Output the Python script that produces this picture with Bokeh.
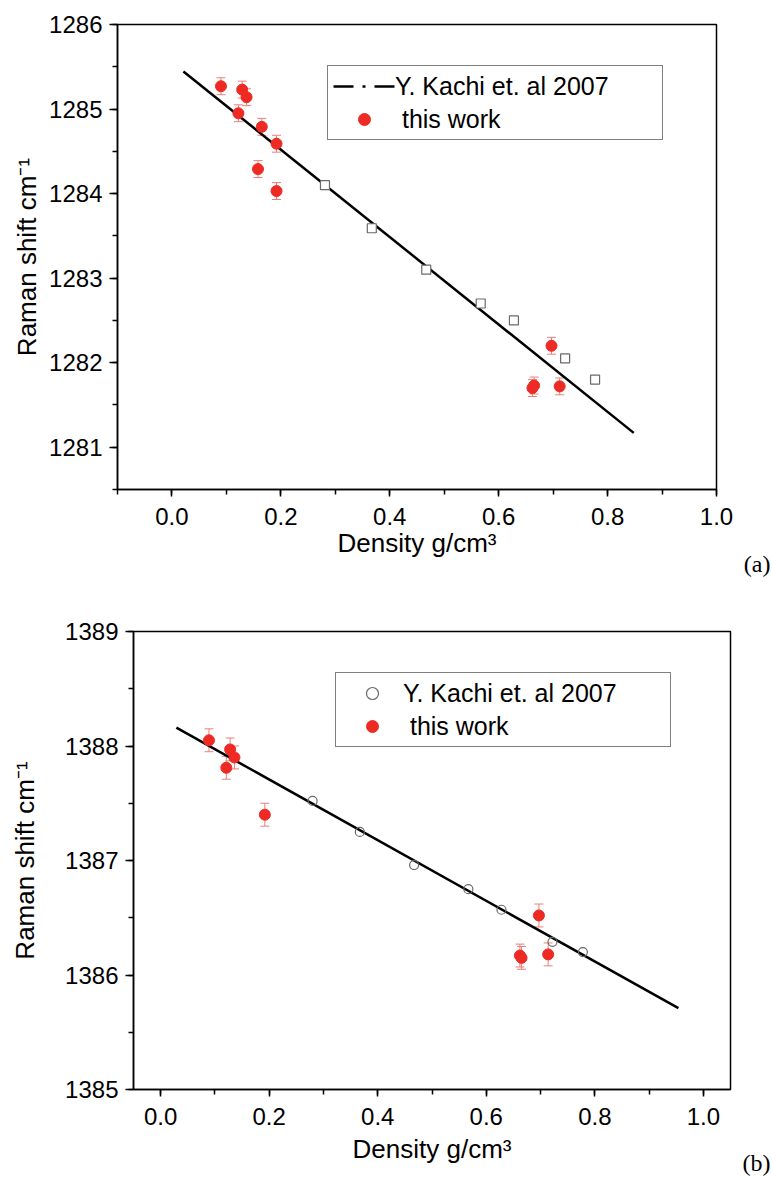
from bokeh.plotting import figure
from bokeh.layouts import column, row
from bokeh.models import (ColumnDataSource, Whisker, TeeHead, Legend, LegendItem,
                          Label, SingleIntervalTicker, PrintfTickFormatter, Range1d)
from bokeh.embed import file_html
from bokeh.resources import INLINE

# ---------------- Panel (a) data ----------------
a_kachi_x = [0.281, 0.367, 0.467, 0.567, 0.628, 0.722, 0.777]
a_kachi_y = [1284.10, 1283.59, 1283.10, 1282.70, 1282.50, 1282.05, 1281.80]
a_work_x = [0.090, 0.129, 0.137, 0.122, 0.165, 0.192, 0.158, 0.192, 0.697, 0.662, 0.665, 0.712]
a_work_y = [1285.27, 1285.23, 1285.14, 1284.95, 1284.79, 1284.59, 1284.29, 1284.03,
            1282.20, 1281.70, 1281.73, 1281.72]
a_work_err = [0.10, 0.10, 0.10, 0.10, 0.10, 0.10, 0.10, 0.10, 0.10, 0.10, 0.10, 0.10]
a_fit_x = [0.021, 0.848]
a_fit_y = [1285.445, 1281.17]

# ---------------- Panel (b) data ----------------
b_kachi_x = [0.280, 0.367, 0.467, 0.567, 0.628, 0.722, 0.778]
b_kachi_y = [1387.52, 1387.25, 1386.96, 1386.75, 1386.57, 1386.29, 1386.20]
b_work_x = [0.089, 0.128, 0.136, 0.121, 0.192, 0.697, 0.662, 0.665, 0.714]
b_work_y = [1388.05, 1387.97, 1387.90, 1387.81, 1387.40, 1386.52, 1386.17, 1386.15, 1386.18]
b_work_err = [0.10, 0.10, 0.10, 0.10, 0.10, 0.10, 0.10, 0.10, 0.10]
b_fit_x = [0.029, 0.954]
b_fit_y = [1388.16, 1385.71]

x_ticks_interval = 0.2
y_ticks_interval = 1

RED = "#EE2A24"
ERR = "#E8807A"
GRAY = "#6A6A6A"
FONT = "Liberation Sans"
NAN = float("nan")


def style(p, y_label_standoff, x_label_standoff):
    p.background_fill_color = "white"
    p.border_fill_color = "white"
    p.outline_line_color = "black"
    p.outline_line_width = 1.5
    p.grid.visible = False
    p.xaxis.ticker = SingleIntervalTicker(interval=x_ticks_interval, num_minor_ticks=2)
    p.xaxis.formatter = PrintfTickFormatter(format="%.1f")
    p.yaxis.ticker = SingleIntervalTicker(interval=y_ticks_interval, num_minor_ticks=2)
    for ax in p.axis:
        ax.axis_line_width = 1.5
        ax.axis_line_color = "black"
        ax.major_tick_line_width = 1.5
        ax.minor_tick_line_width = 1.5
        ax.major_tick_line_color = "black"
        ax.minor_tick_line_color = "black"
        ax.major_tick_in = 0
        ax.minor_tick_in = 0
        ax.major_label_text_font = FONT
        ax.major_label_text_font_size = "24px"
        ax.major_label_text_color = "black"
        ax.axis_label_text_font = FONT
        ax.axis_label_text_font_size = "26px"
        ax.axis_label_text_font_style = "normal"
        ax.axis_label_text_color = "black"
    p.xaxis.major_tick_out = 7
    p.xaxis.minor_tick_out = 5
    p.xaxis.major_label_standoff = 11
    p.xaxis.axis_label_standoff = x_label_standoff
    p.yaxis.major_tick_out = 8
    p.yaxis.minor_tick_out = 5
    p.yaxis.major_label_standoff = 7
    p.yaxis.axis_label_standoff = y_label_standoff
    p.xaxis.axis_label = "Density g/cm\u00b3"
    p.yaxis.axis_label = "Raman shift cm\u207b\u00b9"


def add_work(p, xs, ys, errs):
    src = ColumnDataSource(dict(
        x=xs, y=ys,
        upper=[y + e for y, e in zip(ys, errs)],
        lower=[y - e for y, e in zip(ys, errs)],
    ))
    w = Whisker(base="x", upper="upper", lower="lower", source=src,
                line_color=ERR, line_width=1,
                upper_head=TeeHead(size=9, line_color=ERR, line_width=1),
                lower_head=TeeHead(size=9, line_color=ERR, line_width=1))
    p.add_layout(w)
    r = p.scatter("x", "y", source=src, size=11, marker="circle",
                  fill_color=RED, line_color=RED)
    return r


def tag_figure(text, height, y_from_bottom):
    t = figure(width=30, height=height, x_range=Range1d(0, 30), y_range=Range1d(0, height),
               output_backend="svg", toolbar_location=None,
               x_axis_location=None, y_axis_location=None, min_border=0)
    t.grid.visible = False
    t.outline_line_color = None
    t.background_fill_color = "white"
    t.border_fill_color = "white"
    t.add_layout(Label(x=30, y=y_from_bottom, text=text, text_align="right",
                       text_baseline="middle", text_font="Liberation Serif",
                       text_font_size="24px", text_color="black"))
    return t


# ---------------- Figure (a) ----------------
p1 = figure(width=740, height=592, x_range=Range1d(-0.1, 1.0), y_range=Range1d(1280.5, 1286),
            output_backend="svg", toolbar_location=None,
            min_border_left=117, min_border_right=24, min_border_top=24, min_border_bottom=103)
style(p1, 4, 0)
p1.line(a_fit_x, a_fit_y, line_color="black", line_width=2.5)
p1.scatter(a_kachi_x, a_kachi_y, marker="square", size=9, fill_color="white",
           line_color=GRAY, line_width=1.2)
r1_work = add_work(p1, a_work_x, a_work_y, a_work_err)
r1_dash = p1.line(x=[NAN], y=[NAN], line_color="black", line_width=2.5, line_dash="20 9 3 9")
leg1 = Legend(items=[LegendItem(label="Y. Kachi et. al 2007\u00a0\u00a0\u00a0\u00a0\u00a0\u00a0\u00a0",
                                renderers=[r1_dash]),
                     LegendItem(label="\u00a0this work", renderers=[r1_work])],
              location=(210, 349))
p1.add_layout(leg1)
tag1 = tag_figure("(a)", 592, 29)

# ---------------- Figure (b) ----------------
p2 = figure(width=740, height=584, x_range=Range1d(-0.05, 1.05), y_range=Range1d(1385, 1389),
            output_backend="svg", toolbar_location=None,
            min_border_left=133, min_border_right=10, min_border_top=39, min_border_bottom=87)
style(p2, 22, 6)
p2.line(b_fit_x, b_fit_y, line_color="black", line_width=2.5)
r2_k = p2.scatter(b_kachi_x, b_kachi_y, marker="circle", size=9, fill_color="white",
                  fill_alpha=0.0, line_color=GRAY, line_width=1.2)
r2_work = add_work(p2, b_work_x, b_work_y, b_work_err)
leg2 = Legend(items=[LegendItem(label="Y. Kachi et. al 2007\u00a0\u00a0\u00a0\u00a0\u00a0\u00a0\u00a0",
                                renderers=[r2_k]),
                     LegendItem(label="\u00a0this work", renderers=[r2_work])],
              location=(202, 342))
p2.add_layout(leg2)
tag2 = tag_figure("(b)", 584, 14)

for lg in (leg1, leg2):
    lg.glyph_width = 62
    lg.glyph_height = 30
    lg.label_height = 30
    lg.label_standoff = 0
    lg.padding = 5
    lg.spacing = 3
    lg.margin = 0
    lg.border_line_color = "black"
    lg.border_line_width = 1
    lg.background_fill_color = "white"
    lg.background_fill_alpha = 1.0
    lg.label_text_font = FONT
    lg.label_text_font_size = "25px"
    lg.label_text_color = "black"

layout = column(row(column(p1), column(tag1), spacing=0),
                row(column(p2), column(tag2), spacing=0), spacing=0)
open("out.html", "w").write(file_html(layout, INLINE))
